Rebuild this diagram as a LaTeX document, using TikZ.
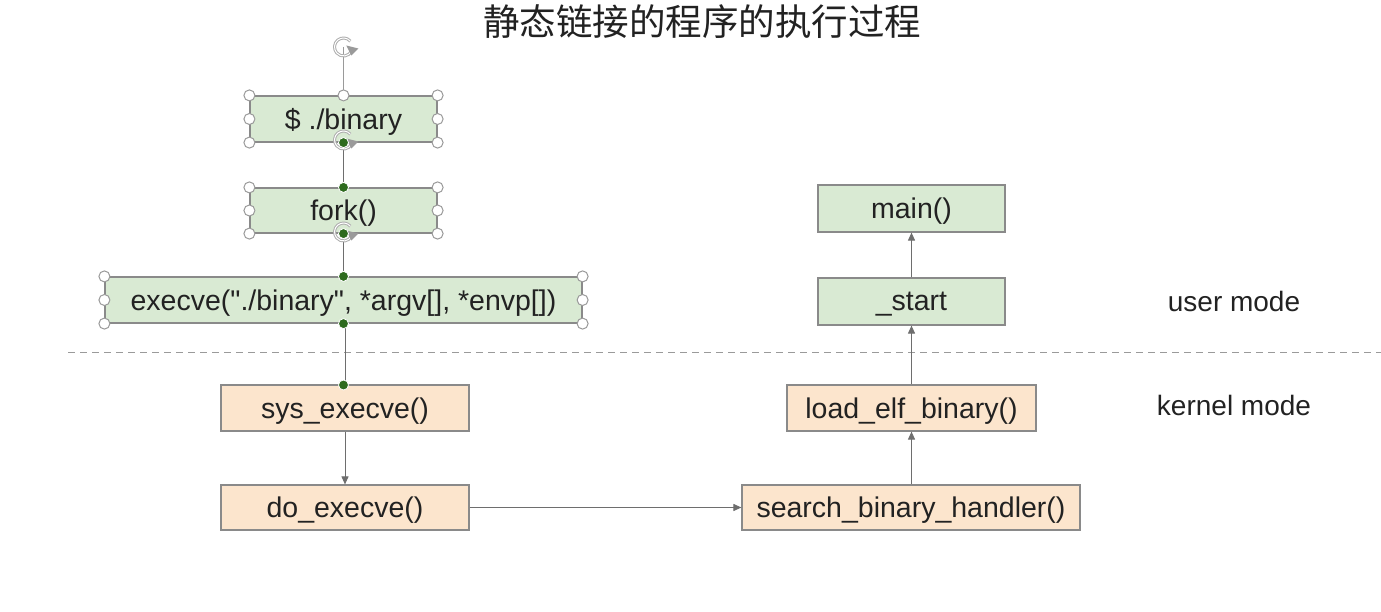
\documentclass[tikz,border=0pt]{standalone}
\usepackage{fontspec}
\setmainfont{Liberation Sans}[Ligatures=TeXOff]
\newfontfamily\cjk{Noto Sans CJK SC}
\usetikzlibrary{arrows.meta}
\definecolor{gfill}{HTML}{D9EAD3}
\definecolor{ofill}{HTML}{FCE5CD}
\definecolor{bord}{HTML}{8A8A8A}
\definecolor{txt}{HTML}{222222}
\definecolor{lin}{HTML}{6E6E6E}
\definecolor{hdl}{HTML}{9A9A9A}
\definecolor{gdot}{HTML}{2E6B1E}
\begin{document}
\begin{tikzpicture}[x=1pt,y=-1pt,
  box/.style={draw=bord, line width=1.2pt, inner sep=0pt, font=\fontsize{28.5}{28.5}\selectfont, text=txt, text depth=0pt},
  gbox/.style={box, fill=gfill},
  obox/.style={box, fill=ofill},
  conn/.style={draw=lin, line width=1pt},
  arr/.style={conn, -{Triangle[length=8pt,width=7pt]}},
  hnd/.style={circle, draw=hdl, fill=white, line width=1pt, inner sep=0pt, minimum size=11pt},
  gd/.style={circle, fill=gdot, draw=white, line width=0.8pt, inner sep=0pt, minimum size=10pt},
  modelbl/.style={font=\fontsize{28}{28}\selectfont, text=txt}]
\useasboundingbox (0,0) rectangle (1381,612);
\fill[white] (0,0) rectangle (1381,612);
% title
\node[font=\cjk\fontsize{36.5}{36.5}\selectfont, text=txt] (title) at (702,22) {静态链接的程序的执行过程};
% dashed separator
\coordinate (dl) at (68,352);
\coordinate (dr) at (1381,352);
\draw[draw=hdl, line width=1pt, dash pattern=on 7pt off 5pt] (dl) -- (dr);
% boxes
\node[gbox, minimum width=187pt, minimum height=46pt] (bin) at (343.5,119) {\$ ./binary};
\node[gbox, minimum width=187pt, minimum height=45pt] (fork) at (343.5,210.5) {fork()};
\node[gbox, minimum width=477pt, minimum height=46pt] (exe) at (343.5,300) {execve("./binary", *argv[], *envp[])};
\node[obox, minimum width=248pt, minimum height=46pt] (sys) at (345,408) {sys\_execve()};
\node[obox, minimum width=248pt, minimum height=45pt] (do) at (345,507.5) {do\_execve()};
\node[obox, minimum width=338pt, minimum height=45pt] (search) at (911,507.5) {search\_binary\_handler()};
\node[obox, minimum width=249pt, minimum height=46pt] (load) at (911.5,408) {load\_elf\_binary()};
\node[gbox, minimum width=187pt, minimum height=47pt] (start) at (911.5,301.5) {\_start};
\node[gbox, minimum width=187pt, minimum height=47pt] (main) at (911.5,208.5) {main()};
\node[modelbl] (um) at (1234,301) {user mode};
\node[modelbl] (km) at (1234,405) {kernel mode};
% connectors
\draw[conn] (bin.south) -- (fork.north);
\draw[conn] (fork.south) -- (exe.north);
\draw[conn] (exe.south -| sys.north) -- (sys.north);
\draw[arr] (sys.south) -- (do.north);
\draw[arr] (do.east) -- (search.west);
\draw[arr] (search.north -| load.south) -- (load.south);
\draw[arr] (load.north -| start.south) -- (start.south);
\draw[arr] (start.north) -- (main.north |- main.south);
% selection handles
\coordinate (rot) at (343.5,47);
\draw[draw=hdl, line width=1pt] (rot) -- (bin.north);
\foreach \b in {bin,fork,exe}{
  \foreach \a in {north west,north east,south west,south east,west,east}{
    \node[hnd] at (\b.\a) {};
  }
}
\node[hnd] at (bin.north) {};
\foreach \p in {(343.5,47),(343.5,140),(343.5,232)}{
  \draw[draw=hdl!80, line width=3pt] \p ++(40:9pt) arc[start angle=40, end angle=330, radius=9pt];
  \draw[draw=white, line width=1pt] \p ++(40:9pt) arc[start angle=40, end angle=330, radius=9pt];
  \fill[hdl] \p ++(-30:9pt) ++(-5,-6) -- ++(12,3) -- ++(-7,7) -- cycle;
}
\node[gd] at (bin.south) {};
\node[gd] at (fork.north) {};
\node[gd] at (fork.south) {};
\node[gd] at (exe.north) {};
\node[gd] at (exe.south) {};
\node[gd] at (343.5,385) {};
\end{tikzpicture}
\end{document}
